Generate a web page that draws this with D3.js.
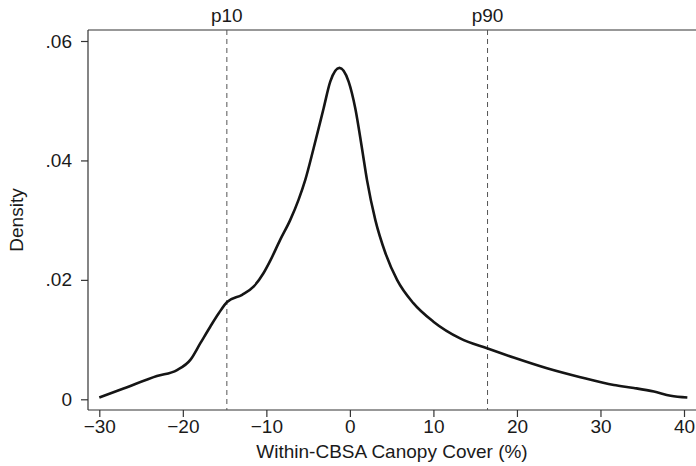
<!DOCTYPE html>
<html>
<head>
<meta charset="utf-8">
<script src="https://cdn.jsdelivr.net/npm/d3@7"></script>
<style>
    body { margin: 0; background: #fff; }
    text { font-family: "Liberation Sans", Arial, sans-serif; fill: #1a1a1a; }
</style>
</head>
<body>
<svg id="chart" width="696" height="466"></svg>
<script>
// Kernel density estimate
const coverX = [-30.0, -27.1, -23.1, -20.7, -19.1, -17.9, -16.7, -15.7, -14.7, -12.9, -11.5, -10.35,
    -9.5, -8.35, -7.15, -6.15, -5.35, -4.35, -3.15, -2.35, -1.25, -0.15, 0.65, 1.45, 2.05,
    3.05, 4.25, 5.65, 7.6, 10.0, 13.2, 16.5, 19.6, 23.6, 27.6, 31.6, 34.0, 36.4, 38.4, 40.4];
const densityY = [0.0003, 0.0018, 0.0039, 0.0049, 0.0066, 0.0094, 0.0122, 0.0144, 0.0163, 0.0175, 0.0189, 0.0211,
    0.0233, 0.0267, 0.0300, 0.0334, 0.0367, 0.0420, 0.0487, 0.0532, 0.0555, 0.0532, 0.0487, 0.0420, 0.0367,
    0.0300, 0.0245, 0.0200, 0.0161, 0.0130, 0.0102, 0.0085, 0.0070, 0.0052, 0.0037, 0.0024, 0.0019, 0.0013, 0.0006, 0.0003];

// Percentile markers
const pctLabels = ["p10", "p90"];
const pctValues = [-14.73, 16.48];

// Ticks
const xTicks = [-30, -20, -10, 0, 10, 20, 30, 40];
const yTicks = [0, 0.02, 0.04, 0.06];

const svg = d3.select("#chart");
const width = +svg.attr("width");
const height = +svg.attr("height");

const plotLeft = 88, plotTop = 30, plotBottom = 410;
const fontSize = "19px";

const x = d3.scaleLinear().domain([-30, 40]).range([99.3, 684]);
const y = d3.scaleLinear().domain([0, 0.06]).range([399.3, 41]);

const points = coverX.map((v, i) => [v, densityY[i]]);

// Frame: top border
svg.append("line")
    .attr("x1", plotLeft).attr("x2", width)
    .attr("y1", plotTop).attr("y2", plotTop)
    .attr("stroke", "#333").attr("stroke-width", 1.2);

// Y axis
const yAxis = svg.append("g")
    .attr("transform", `translate(${plotLeft},0)`)
    .call(d3.axisLeft(y).tickValues(yTicks).tickSize(7).tickPadding(9)
        .tickFormat(d => d === 0 ? "0" : d3.format(".2f")(d).replace(/^0/, "")));
yAxis.select(".domain").remove();
yAxis.append("line")
    .attr("x1", 0).attr("x2", 0).attr("y1", plotTop).attr("y2", plotBottom)
    .attr("stroke", "#333").attr("stroke-width", 1.2);

// X axis
const xAxis = svg.append("g")
    .attr("transform", `translate(0,${plotBottom})`)
    .call(d3.axisBottom(x).tickValues(xTicks).tickSize(7).tickPadding(3)
        .tickFormat(d => d < 0 ? "\u2212" + Math.abs(d) : String(d)));
xAxis.select(".domain").remove();
xAxis.append("line")
    .attr("x1", plotLeft).attr("x2", width).attr("y1", 0).attr("y2", 0)
    .attr("stroke", "#333").attr("stroke-width", 1.2);

svg.selectAll(".tick line").attr("stroke", "#333").attr("stroke-width", 1.2);
svg.selectAll(".tick text")
    .attr("font-size", fontSize)
    .attr("font-family", "'Liberation Sans', Arial, sans-serif")
    .attr("fill", "#1a1a1a");

// Percentile lines
svg.append("g")
    .selectAll("line")
    .data(pctValues)
    .join("line")
    .attr("x1", d => x(d)).attr("x2", d => x(d))
    .attr("y1", plotTop).attr("y2", plotBottom)
    .attr("stroke", "#555")
    .attr("stroke-width", 1)
    .attr("stroke-dasharray", "5,4");

svg.append("g")
    .selectAll("text")
    .data(pctValues)
    .join("text")
    .attr("x", d => x(d))
    .attr("y", 22)
    .attr("text-anchor", "middle")
    .attr("font-size", fontSize)
    .text((d, i) => pctLabels[i]);

// Density curve
svg.append("path")
    .datum(points)
    .attr("fill", "none")
    .attr("stroke", "#151515")
    .attr("stroke-width", 2.6)
    .attr("stroke-linejoin", "round")
    .attr("d", d3.line()
        .x(d => x(d[0]))
        .y(d => y(d[1]))
        .curve(d3.curveMonotoneX));

// Axis titles
svg.append("text")
    .attr("x", (plotLeft + width) / 2)
    .attr("y", 458)
    .attr("text-anchor", "middle")
    .attr("font-size", fontSize)
    .text("Within-CBSA Canopy Cover (%)");

svg.append("text")
    .attr("transform", `translate(23,${(plotTop + plotBottom) / 2}) rotate(-90)`)
    .attr("text-anchor", "middle")
    .attr("font-size", fontSize)
    .text("Density");
</script>
</body>
</html>
